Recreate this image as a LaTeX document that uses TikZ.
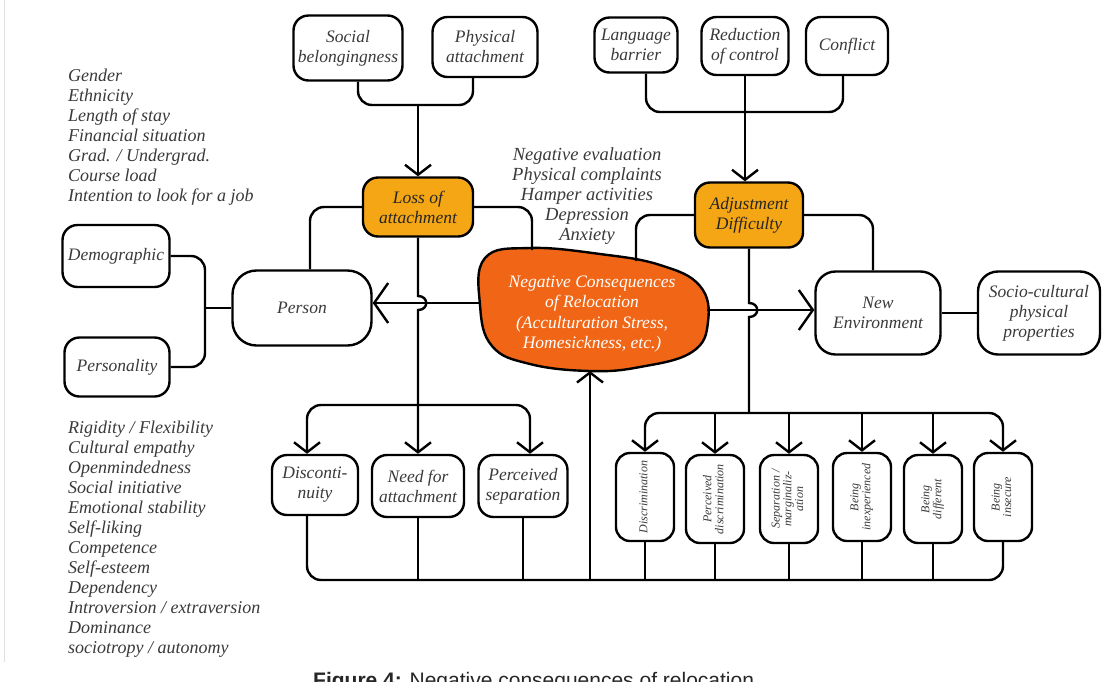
\documentclass[tikz,border=0pt]{standalone}
\usepackage{fontspec}
\setmainfont{Liberation Serif}
\setsansfont{Liberation Sans}
\usetikzlibrary{arrows.meta,calc}
\definecolor{amber}{RGB}{245,166,20}
\definecolor{ncor}{RGB}{240,102,22}
\definecolor{txt}{RGB}{58,58,58}
\begin{document}
\begin{tikzpicture}[x=1pt,y=-1pt,
  box/.style={draw=black, line width=2.4pt, rounded corners=15pt, align=center,
    font=\fontsize{17.5}{20}\selectfont\itshape, text=txt, inner sep=1pt},
  hot/.style={box, fill=amber, text=black!85},
  line/.style={line width=2.4pt},
  conn/.style={line width=2.4pt, rounded corners=14pt},
  arr/.style={-{Straight Barb[length=10pt,width=26pt,line width=2.4pt]}},
  bigarr/.style={-{Straight Barb[length=14pt,width=40pt,line width=2.4pt]}},
  vbox/.style={box, minimum width=58pt, minimum height=88pt, rounded corners=14pt,
    font=\fontsize{12}{13}\selectfont\itshape},
  lst/.style={align=left, font=\fontsize{18}{20}\selectfont\itshape, text=txt,
    anchor=north west, inner sep=0pt},
]
\useasboundingbox[fill=white] (0,0) rectangle (1103,681);
\draw[gray!25, line width=1pt] (4,0) -- (4,662);

% top boxes
\node[box, minimum width=109pt, minimum height=65pt] (soc) at (348,48) {Social\\belongingness};
\node[box, minimum width=105pt, minimum height=60pt] (phy) at (485,47) {Physical\\attachment};
\node[box, minimum width=83pt, minimum height=55pt] (lang) at (636,45) {Language\\barrier};
\node[box, minimum width=87pt, minimum height=58pt] (red) at (745,46) {Reduction\\of control};
\node[box, minimum width=82pt, minimum height=58pt] (conf) at (847,46) {Conflict};

% orange boxes
\node[hot, minimum width=110pt, minimum height=59pt] (loss) at (418,207) {Loss of\\attachment};
\node[hot, minimum width=108pt, minimum height=65pt] (adj) at (749,215) {Adjustment\\Difficulty};

% symptom list
\node[align=center, font=\fontsize{18.5}{20}\selectfont\itshape, text=txt] (symp) at (587,196)
  {Negative evaluation\\Physical complaints\\Hamper activities\\Depression\\Anxiety};

% central blob
\draw[line width=2.4pt, fill=ncor] plot[smooth cycle, tension=0.7] coordinates
  {(485,258) (530,248) (600,254) (660,265) (700,286) (708,322) (692,352) (640,367)
   (590,371) (530,364) (492,346) (480,305)};
\node[align=center, text=white, font=\fontsize{17.5}{20.5}\selectfont\itshape] (nc) at (592,314)
  {Negative Consequences\\of Relocation\\(Acculturation Stress,\\Homesickness, etc.)};
\coordinate (ncw) at (481,303);
\coordinate (nce) at (707,310);
\coordinate (nct1) at (532,250);
\coordinate (nct2) at (636,261);
\coordinate (ncb) at (590,371);

% middle row
\node[box, minimum width=139pt, minimum height=75pt, rounded corners=24pt] (person) at (302,308) {Person};
\node[box, minimum width=107pt, minimum height=62pt] (demo) at (116,256) {Demographic};
\node[box, minimum width=105pt, minimum height=59pt] (pers) at (117,367) {Personality};
\node[box, minimum width=125pt, minimum height=83pt, rounded corners=20pt] (newenv) at (878,313) {New\\Environment};
\node[box, minimum width=122pt, minimum height=83pt, rounded corners=20pt] (socio) at (1039,313) {Socio-cultural\\physical\\properties};

% bottom boxes
\node[box, minimum width=86pt, minimum height=60pt] (disc) at (315,485) {Disconti-\\nuity};
\node[box, minimum width=92pt, minimum height=62pt] (need) at (418,486) {Need for\\attachment};
\node[box, minimum width=89pt, minimum height=62pt] (psep) at (523,486) {Perceived\\separation};

\def\vt#1{\rotatebox{90}{\def\arraystretch{0.9}\begin{tabular}{@{}c@{}}#1\end{tabular}}}
\node[vbox] (v1) at (645,497) {\vt{Discrimination}};
\node[vbox] (v2) at (715,499) {\vt{Perceived\\discrimination}};
\node[vbox] (v3) at (789,499) {\vt{Separation /\\marginaliz-\\ation}};
\node[vbox] (v4) at (862,497) {\vt{Being\\inexperienced}};
\node[vbox] (v5) at (933,499) {\vt{Being\\different}};
\node[vbox] (v6) at (1003,497) {\vt{Being\\insecure}};

% lists
\node[lst] (demolist) at (68,69) {Gender\\Ethnicity\\Length of stay\\Financial situation\\Grad. / Undergrad.\\Course load\\Intention to look for a job};
\node[lst] (perslist) at (68,421) {Rigidity / Flexibility\\Cultural empathy\\Openmindedness\\Social initiative\\Emotional stability\\Self-liking\\Competence\\Self-esteem\\Dependency\\Introversion / extraversion\\Dominance\\sociotropy / autonomy};

% caption
\node[anchor=base west, inner sep=0pt, font=\sffamily\fontsize{21}{24}\selectfont, text=black!85] (cap) at (313,687)
  {\textbf{Figure 4:} Negative consequences of relocation};

% connectors top
\coordinate (j1) at (418,105);
\draw[conn] ([xshift=10pt]soc.south) |- (j1) -| ([xshift=-12pt]phy.south);
\draw[line,arr] (j1) -- (loss.north);
\coordinate (j2) at (745,112);
\draw[conn] ([xshift=10pt]lang.south) |- (j2) -| ([xshift=-4pt]conf.south);
\draw[line,arr] (red.south) -- (red.south |- adj.north);

% orange box side links
\draw[conn] (loss.west) -| ([xshift=8pt]person.north);
\draw[conn] (loss.east) -| (nct1);
\draw[conn] (adj.west) -| (nct2);
\draw[conn] (adj.east) -| ([xshift=-5pt]newenv.north);

% horizontal arrows from blob
\draw[line,bigarr] (ncw) -- (person.east |- ncw);
\draw[line,bigarr] (nce) -- (newenv.west |- nce);

% vertical from loss with hop
\coordinate (x1) at (loss.south |- ncw);
\draw[line,arr] (loss.south) -- ($(x1)+(0,-7)$) .. controls ($(x1)+(11,-7)$) and ($(x1)+(11,7)$) .. ($(x1)+(0,7)$) -- (need.north);
\coordinate (j3) at (418,405);
\draw[conn,arr] (j3) -| ([xshift=-8pt]disc.north);
\draw[conn,arr] (j3) -| ([xshift=7pt]psep.north);

% vertical from adjustment with hop
\coordinate (x2) at (adj.south |- nce);
\coordinate (j4) at (749,413);
\draw[line] (adj.south) -- ($(x2)+(0,-7)$) .. controls ($(x2)+(11,-7)$) and ($(x2)+(11,7)$) .. ($(x2)+(0,7)$) -- (j4);
\draw[conn,arr] (j4) -| (v1.north);
\draw[conn,arr] (j4) -| (v6.north);
\foreach \v in {v2,v3,v4,v5} \draw[line,arr] (\v.north |- j4) -- (\v.north);

% bottom bus
\coordinate (bl) at (590,580);
\draw[conn] ([xshift=-8pt]disc.south) |- (bl) -| (v6.south);
\foreach \n in {need,psep,v1,v2,v3,v4,v5} \draw[line] (\n.south) -- (\n.south |- bl);
\draw[line,arr] (bl) -- (ncb);

% left side
\coordinate (j5) at (205,308);
\draw[conn] (demo.east) -| (j5) |- (pers.east);
\draw[line] (j5) -- (person.west);
\draw[line] (newenv.east) -- (socio.west);
\end{tikzpicture}
\end{document}
